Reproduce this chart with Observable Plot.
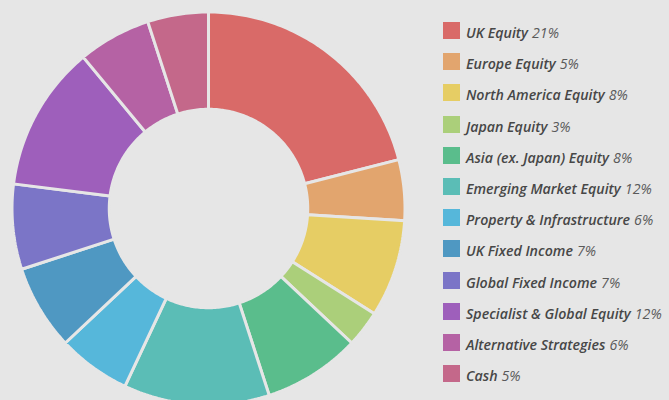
<!DOCTYPE html>
<html>
<head>
<meta charset="utf-8">
<script src="https://cdn.jsdelivr.net/npm/d3@7"></script>
<script src="https://cdn.jsdelivr.net/npm/@observablehq/plot@0.6"></script>
<style>
  html, body { margin: 0; padding: 0; background: #e6e6e6; overflow: hidden; }
  #wrap { position: relative; width: 669px; height: 400px; }
  #legend { position: absolute; left: 443px; top: 15px; font-family: "Open Sans", sans-serif; font-style: italic; font-size: 14.2px; }
  .row { display: flex; align-items: center; height: 31.2px; white-space: nowrap; }
  .sw { width: 17px; height: 17px; margin-right: 6px; flex: none; }
  .txt { position: relative; top: 2px; }
  .lab { font-weight: 600; color: #474747; }
  .pct { font-weight: 400; color: #5a5a5a; margin-left: 4px; }
</style>
</head>
<body>
<div id="wrap"><div id="chart"></div><div id="legend"></div></div>
<script>
const categories = ["UK Equity", "Europe Equity", "North America Equity", "Japan Equity",
  "Asia (ex. Japan) Equity", "Emerging Market Equity", "Property & Infrastructure",
  "UK Fixed Income", "Global Fixed Income", "Specialist & Global Equity",
  "Alternative Strategies", "Cash"];
const values = [21, 5, 8, 3, 8, 12, 6, 7, 7, 12, 6, 5];
const colors = ["#d96a68", "#e2a56e", "#e6cd64", "#abcf7a", "#5abd8c", "#5bbdb6",
  "#56b7da", "#4f98c2", "#7b75c7", "#9e5fbb", "#b562a4", "#c4688a"];

const bg = "#e6e6e6";
const innerRatio = 0.505;

// Build slice polygons from d3.pie angles (computed from data values)
const arcs = d3.pie().sort(null).value(d => d)(values);
const pts = [];
arcs.forEach((a, i) => {
  const n = Math.max(8, Math.ceil((a.endAngle - a.startAngle) * 60));
  for (let k = 0; k <= n; k++) {
    const t = a.startAngle + (a.endAngle - a.startAngle) * k / n;
    pts.push({cat: categories[i], x: Math.sin(t), y: Math.cos(t)});
  }
  for (let k = n; k >= 0; k--) {
    const t = a.startAngle + (a.endAngle - a.startAngle) * k / n;
    pts.push({cat: categories[i], x: innerRatio * Math.sin(t), y: innerRatio * Math.cos(t)});
  }
});

const cx = 208, cy = 208, R = 196.5;
const chart = Plot.plot({
  width: 669,
  height: 400,
  margin: 0,
  style: {background: bg, overflow: "hidden"},
  x: {type: "linear", domain: [-1, 1], range: [cx - R, cx + R], axis: null},
  y: {type: "linear", domain: [-1, 1], range: [cy + R, cy - R], axis: null},
  color: {domain: categories, range: colors},
  marks: [
    Plot.line(pts, {x: "x", y: "y", z: "cat", fill: "cat", stroke: bg, strokeWidth: 3,
      strokeLinejoin: "miter", curve: "linear-closed"})
  ]
});
document.getElementById("chart").appendChild(chart);

const legend = document.getElementById("legend");
categories.forEach((c, i) => {
  const row = document.createElement("div");
  row.className = "row";
  row.innerHTML = `<div class="sw" style="background:${colors[i]}"></div><span class="txt"><span class="lab"></span><span class="pct">${values[i]}%</span></span>`;
  row.querySelector(".lab").textContent = c;
  legend.appendChild(row);
});
</script>
</body>
</html>
